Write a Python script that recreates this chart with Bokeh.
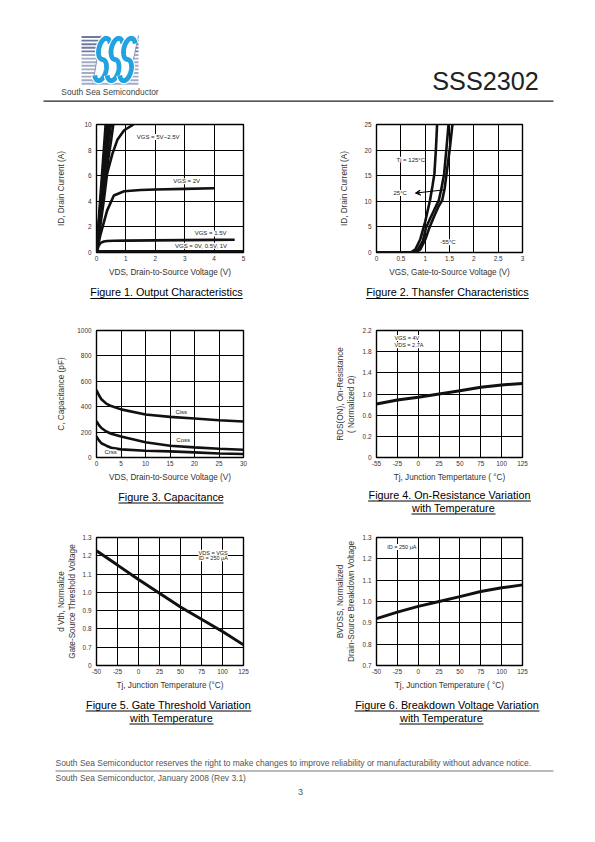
import numpy as np
from bokeh.plotting import figure
from bokeh.layouts import column, row
from bokeh.models import Range1d, FixedTicker, Arrow, VeeHead
from bokeh.core.properties import value
from bokeh.embed import file_html
from bokeh.resources import INLINE

FONT = "Liberation Sans"

# ---------------- data ----------------
# Figure 1 output characteristics (VDS V, ID A)
f1_5v_x = [0, 0.1, 0.2, 0.31]
f1_5v_y = [0, 3.3, 6.5, 10]
f1_45v_x = [0, 0.1, 0.2, 0.36]
f1_45v_y = [0, 2.9, 5.7, 10]
f1_4v_x = [0, 0.1, 0.2, 0.3, 0.42]
f1_4v_y = [0, 2.6, 5.1, 7.4, 10]
f1_35v_x = [0, 0.1, 0.2, 0.3, 0.4, 0.49]
f1_35v_y = [0, 2.3, 4.5, 6.5, 8.4, 10]
f1_3v_x = [0, 0.1, 0.2, 0.3, 0.4, 0.5, 0.57]
f1_3v_y = [0, 2.0, 3.9, 5.7, 7.3, 8.8, 10]
f1_25v_x = [0, 0.1, 0.25, 0.36, 0.54, 0.71, 0.94, 1.26]
f1_25v_y = [0, 1.6, 4.1, 6.15, 7.7, 8.8, 9.55, 10]
f1_2v_x = [0, 0.14, 0.36, 0.59, 0.94, 1.5, 2.0, 3.0, 4.0]
f1_2v_y = [0, 1.44, 3.27, 4.45, 4.79, 4.88, 4.92, 4.97, 5.02]
f1_15v_x = [0, 0.07, 0.14, 0.25, 0.36, 0.6, 1.0, 2.0, 3.0, 4.0, 4.7]
f1_15v_y = [0, 0.5, 0.75, 0.86, 0.9, 0.92, 0.93, 0.95, 0.97, 0.99, 1.0]
f1_0v_x = [0, 5]
f1_0v_y = [0, 0]
f1_lab_text = ["VGS = 5V~2.5V", "VGS = 2V", "VGS = 1.5V", "VGS = 0V, 0.5V, 1V"]
f1_lab_x = [1.37, 2.61, 3.34, 2.67]
f1_lab_y = [9.03, 5.57, 1.49, 0.53]
f1_xticks = [0, 1, 2, 3, 4, 5]
f1_yticks = [0, 2, 4, 6, 8, 10]

# Figure 2 transfer characteristics (VGS V, ID A)
f2_125_x = [0, 0.70, 0.80, 0.90, 1.00, 1.10, 1.15, 1.19, 1.22, 1.245]
f2_125_y = [0, 0, 0.6, 2.6, 6.0, 10.2, 13.0, 15.4, 20.0, 25]
f2_25_x = [0, 0.75, 0.85, 0.95, 1.02, 1.10, 1.18, 1.24, 1.28, 1.33, 1.39, 1.44, 1.48]
f2_25_y = [0, 0, 0.5, 2.2, 4.9, 6.6, 8.2, 9.4, 10.2, 12.3, 15.4, 20.6, 25]
f2_m55_x = [0, 0.80, 0.90, 1.00, 1.09, 1.18, 1.27, 1.35, 1.40, 1.44, 1.51, 1.56]
f2_m55_y = [0, 0, 0.6, 2.5, 4.9, 7.0, 8.9, 10.2, 12.5, 15.4, 20.6, 25]
f2_lab_text = ["Tj = 125°C", "25°C", "-55°C"]
f2_lab_x = [0.41, 0.35, 1.31]
f2_lab_y = [18.1, 11.6, 2.0]
f2_arrow = dict(x_start=1.40, y_start=12.25, x_end=0.80, y_end=11.6)
f2_xticks = [0, 0.5, 1, 1.5, 2, 2.5, 3]
f2_yticks = [0, 5, 10, 15, 20, 25]

# Figure 3 capacitance (VDS V, pF)
f3_vds = [0, 0.5, 1, 2, 3, 5, 10, 15, 20, 25, 30]
f3_ciss = [531, 490, 459, 424, 405, 379, 339, 320, 307, 293, 283]
f3_coss = [285, 255, 232, 205, 187, 165, 120, 93, 80, 69, 61]
f3_crss = [165, 135, 112, 93, 77, 64, 53, 48, 40, 32, 27]
f3_lab_text = ["Ciss", "Coss", "Crss"]
f3_lab_x = [16.1, 16.3, 1.63]
f3_lab_y = [357, 138, 40]
f3_xticks = [0, 5, 10, 15, 20, 25, 30]
f3_yticks = [0, 200, 400, 600, 800, 1000]

# Temperature axis used by figures 4-6 (first tick is printed "-55" in Fig. 4)
temp_pos = [-50, -25, 0, 25, 50, 75, 100, 125]
f4_temp_labels = ["-55", "-25", "0", "25", "50", "75", "100", "125"]
temp_labels = ["-50", "-25", "0", "25", "50", "75", "100", "125"]
f4_rds = [0.81, 0.886, 0.937, 1.0, 1.063, 1.127, 1.17, 1.2]
f4_yticks = [-0.2, 0.2, 0.6, 1.0, 1.4, 1.8, 2.2]
f4_ytick_labels = ["0", "0.2", "0.6", "1.0", "1.4", "1.8", "2.2"]
f4_lab_text = ["VGS = 4V", "VDS = 2.7A"]
f4_lab_x = [-28.4, -28.4]
f4_lab_y = [2.06, 1.92]

f5_vth = [1.227, 1.149, 1.07, 0.995, 0.92, 0.853, 0.786, 0.713]
f5_yticks = [0.6, 0.7, 0.8, 0.9, 1.0, 1.1, 1.2, 1.3]
f5_ytick_labels = ["0", "0.7", "0.8", "0.9", "1.0", "1.1", "1.2", "1.3"]
f5_lab_text = ["VDS = VGS", "ID = 250 μA"]
f5_lab_x = [71.5, 71.5]
f5_lab_y = [1.216, 1.186]

f6_bv = [0.92, 0.95, 0.977, 1.0, 1.023, 1.047, 1.064, 1.078]
f6_yticks = [0.7, 0.8, 0.9, 1.0, 1.1, 1.2, 1.3]
f6_ytick_labels = ["0.7", "0.8", "0.9", "1.0", "1.1", "1.2", "1.3"]
f6_lab_text = ["ID = 250 μA"]
f6_lab_x = [-37.2]
f6_lab_y = [1.256]

captions_row1 = ["Figure 1. Output Characteristics", "Figure 2. Thansfer Characteristics"]
captions_row2 = ["Figure 3. Capacitance", "Figure 4. On-Resistance Variation", "with Temperature"]
captions_row3 = ["Figure 5. Gate Threshold Variation", "with Temperature",
                 "Figure 6. Breakdown Voltage Variation", "with Temperature"]
# approximate text widths in em (Arial metrics), used for underline length
caption_em = {"Figure 1. Output Characteristics": 14.116,
              "Figure 2. Thansfer Characteristics": 15.060,
              "Figure 3. Capacitance": 9.726,
              "Figure 4. On-Resistance Variation": 15.061,
              "with Temperature": 7.780,
              "Figure 5. Gate Threshold Variation": 15.340,
              "Figure 6. Breakdown Voltage Variation": 17.119}
CAP_SIZE = 10.8


def chart(xr, yr, bl, fw, br, bt, fh, bb, xt, yt, xlabel, ylabel,
          xover=None, yover=None, ystand=10, xstand=4):
    p = figure(width=bl + fw + br, height=bt + fh + bb,
               x_range=Range1d(*xr), y_range=Range1d(*yr),
               output_backend="svg", toolbar_location=None,
               min_border_left=bl, min_border_right=br,
               min_border_top=bt, min_border_bottom=bb)
    p.outline_line_color = "black"
    p.outline_line_width = 1.4
    p.border_fill_color = "white"
    p.background_fill_color = "white"
    for ax, ticks, lab, over, st in [(p.xaxis[0], xt, xlabel, xover, xstand),
                                     (p.yaxis[0], yt, ylabel, yover, ystand)]:
        ax.ticker = FixedTicker(ticks=ticks)
        if over:
            ax.major_label_overrides = over
        ax.axis_label = lab
        ax.axis_label_standoff = st
        ax.axis_label_text_font = FONT
        ax.axis_label_text_font_size = "8.2px"
        ax.axis_label_text_font_style = "normal"
        ax.axis_label_text_color = "#333333"
        ax.major_label_text_font = FONT
        ax.major_label_text_font_size = "6.4px"
        ax.major_label_text_color = "#333333"
        ax.major_tick_line_color = None
        ax.minor_tick_line_color = None
        ax.axis_line_color = None
        ax.major_tick_out = 0
        ax.major_tick_in = 0
    p.xaxis[0].major_label_standoff = 3
    p.yaxis[0].major_label_standoff = 5
    p.xgrid.ticker = FixedTicker(ticks=xt)
    p.ygrid.ticker = FixedTicker(ticks=yt)
    p.grid.grid_line_color = "black"
    p.grid.grid_line_width = 1
    p.grid.grid_line_alpha = 1
    return p


def labels(p, xs, ys, texts, size="6px", align="left"):
    p.text(x=xs, y=ys, text=texts, text_font=value(FONT), text_font_size=size,
           text_color="#222222", text_align=align, text_baseline="middle",
           background_fill_color="white")


def strip(y0, y1):
    p = figure(width=595, height=y1 - y0, x_range=Range1d(0, 595),
               y_range=Range1d(y1, y0), output_backend="svg",
               toolbar_location=None, x_axis_location=None, y_axis_location=None,
               min_border=0, min_border_left=0, min_border_right=0,
               min_border_top=0, min_border_bottom=0)
    p.grid.visible = False
    p.outline_line_color = None
    return p


def caption(p, items):
    # items: (text, center x, center y) in page pixels
    for t, cx, cy in items:
        hw = caption_em[t] * CAP_SIZE / 2
        p.text(x=[cx], y=[cy], text=[t], text_font=value(FONT),
               text_font_size=f"{CAP_SIZE}px", text_color="black",
               text_align="center", text_baseline="middle")
        p.segment(x0=[cx - hw], y0=[cy + 6.5], x1=[cx + hw], y1=[cy + 6.5],
                  line_color="black", line_width=1)


LW = 2.6
# ---------------- Figure 1 ----------------
f1 = chart((0, 5), (0, 10), 96, 147, 54, 16, 128, 28, f1_xticks, f1_yticks,
           "VDS, Drain-to-Source Voltage (V)", "ID, Drain Current (A)", ystand=15)
for xs, ys in [(f1_5v_x, f1_5v_y), (f1_45v_x, f1_45v_y), (f1_4v_x, f1_4v_y),
               (f1_35v_x, f1_35v_y), (f1_3v_x, f1_3v_y), (f1_25v_x, f1_25v_y),
               (f1_2v_x, f1_2v_y), (f1_15v_x, f1_15v_y)]:
    f1.line(xs, ys, line_color="#111111", line_width=LW)
f1.line(f1_0v_x, f1_0v_y, line_color="#111111", line_width=5)
labels(f1, f1_lab_x, f1_lab_y, f1_lab_text)

# ---------------- Figure 2 ----------------
f2 = chart((0, 3), (0, 25), 79, 146, 73, 16, 128, 28, f2_xticks, f2_yticks,
           "VGS, Gate-to-Source Voltage (V)", "ID, Drain Current (A)",
           xover={0: "0", 1: "1", 2: "2", 3: "3"}, ystand=12)
for xs, ys in [(f2_125_x, f2_125_y), (f2_25_x, f2_25_y), (f2_m55_x, f2_m55_y)]:
    f2.line(xs, ys, line_color="#111111", line_width=LW)
f2.add_layout(Arrow(end=VeeHead(size=5, fill_color="black", line_color="black"),
                    line_color="black", line_width=1, **f2_arrow))
labels(f2, f2_lab_x, f2_lab_y, f2_lab_text)

# ---------------- Figure 3 ----------------
f3 = chart((0, 30), (0, 1000), 96, 147, 54, 25, 127, 27, f3_xticks, f3_yticks,
           "VDS, Drain-to-Source Voltage (V)", "C, Capacitance (pF)", ystand=8)
for ys in (f3_ciss, f3_coss, f3_crss):
    f3.line(f3_vds, ys, line_color="#111111", line_width=LW)
labels(f3, f3_lab_x, f3_lab_y, f3_lab_text)

# ---------------- Figure 4 ----------------
f4 = chart((-50, 125), (-0.2, 2.2), 79, 146, 73, 25, 127, 27, temp_pos, f4_yticks,
           "Tj, Junction Tempertature ( °C)",
           "RDS(ON), On-Resistance\n(      Normalized     Ω)",
           xover=dict(zip(temp_pos, f4_temp_labels)),
           yover=dict(zip(f4_yticks, f4_ytick_labels)), ystand=4)
f4.line(temp_pos, f4_rds, line_color="#111111", line_width=3)
labels(f4, f4_lab_x, f4_lab_y, f4_lab_text, size="5.5px")

# ---------------- Figure 5 ----------------
f5 = chart((-50, 125), (0.6, 1.3), 96, 147, 54, 22, 128, 29, temp_pos, f5_yticks,
           "Tj, Junction Temperature (°C)",
           "d Vth, Normalize\nGate-Source Threshold Voltage",
           xover=dict(zip(temp_pos, temp_labels)),
           yover=dict(zip(f5_yticks, f5_ytick_labels)), ystand=3)
f5.line(temp_pos, f5_vth, line_color="#111111", line_width=3)
labels(f5, f5_lab_x, f5_lab_y, f5_lab_text, size="5.5px")

# ---------------- Figure 6 ----------------
f6 = chart((-50, 125), (0.7, 1.3), 79, 146, 73, 22, 128, 29, temp_pos, f6_yticks,
           "Tj, Junction Temperature ( °C)",
           "BVDSS, Normalized\nDrain-Source Breakdown Voltage",
           xover=dict(zip(temp_pos, temp_labels)),
           yover=dict(zip(f6_yticks, f6_ytick_labels)), ystand=4)
f6.line(temp_pos, f6_bv, line_color="#111111", line_width=3)
labels(f6, f6_lab_x, f6_lab_y, f6_lab_text, size="5.5px")

# ---------------- caption strips ----------------
cap1 = strip(280, 305)
caption(cap1, [(captions_row1[0], 166, 291.5), (captions_row1[1], 447, 291.5)])
cap2 = strip(484, 515)
caption(cap2, [(captions_row2[0], 170.5, 496), (captions_row2[1], 449, 494),
               (captions_row2[2], 453, 507)])
cap3 = strip(694, 725)
caption(cap3, [(captions_row3[0], 168, 704), (captions_row3[1], 171, 717),
               (captions_row3[2], 446.5, 704), (captions_row3[3], 441, 717)])

# ---------------- header ----------------
hdr = strip(0, 108)
stripe_y = np.arange(36.5, 83.5, 3.6)
stripe_col = ["#6f7aa0" if y < 52 else "#a3acc6" for y in stripe_y]
hdr.segment(x0=[81] * len(stripe_y), y0=stripe_y, x1=[138] * len(stripe_y), y1=stripe_y,
            line_color=stripe_col, line_width=1.9)
# white slanted field behind the letters
hdr.patch(x=[100.5, 138, 128, 92.5], y=[35, 35, 82, 82], fill_color="white",
          line_color=None)
hdr.segment(x0=[100.5, 138], y0=[35, 35], x1=[92.5, 128], y1=[82, 82],
            line_color="#8a94b4", line_width=1)


def s_path(cx, mid, rx, ry, slant=0.18):
    t1 = np.radians(np.linspace(30, 270, 40))
    t2 = np.radians(np.linspace(90, -150, 40))
    xu = np.concatenate([cx + rx * np.cos(t1), cx + rx * np.cos(t2)])
    yu = np.concatenate([ry + ry * np.sin(t1), -ry + ry * np.sin(t2)])
    return xu + slant * yu, mid - yu


for cx in (102, 114.5, 127):
    xs, ys = s_path(cx, 59, 5.6, 10.6)
    hdr.line(xs, ys, line_color="white", line_width=7)
    hdr.line(xs, ys, line_color="#21a3e0", line_width=4.8)
hdr.text(x=[109.5], y=[91.8], text=["South Sea Semiconductor"], text_font=value(FONT),
         text_font_size="8.4px", text_color="#444444", text_align="center",
         text_baseline="middle")
hdr.text(x=[485], y=[80.5], text=["SSS2302"], text_font=value(FONT),
         text_font_size="25.2px", text_color="#222222", text_align="center",
         text_baseline="middle")
hdr.segment(x0=[43], y0=[100.7], x1=[553], y1=[100.7], line_color="#222222", line_width=1.2)

# ---------------- footer ----------------
ftr = strip(725, 840)
ftr.text(x=[55], y=[762.3],
         text=["South Sea Semiconductor reserves the right to make changes to improve reliability or manufacturability without advance notice."],
         text_font=value(FONT), text_font_size="8.45px", text_color="#555555",
         text_align="left", text_baseline="middle")
ftr.segment(x0=[55], y0=[770.5], x1=[553], y1=[770.5], line_color="#777777", line_width=1)
ftr.text(x=[55], y=[777], text=["South Sea Semiconductor, January 2008 (Rev 3.1)"],
         text_font=value(FONT), text_font_size="8.45px", text_color="#555555",
         text_align="left", text_baseline="middle")
ftr.text(x=[300], y=[791.5], text=["3"], text_font=value(FONT), text_font_size="9px",
         text_color="#555555", text_align="center", text_baseline="middle")

page = column(hdr,
              row(f1, f2), cap1,
              row(f3, f4), cap2,
              row(f5, f6), cap3,
              ftr)

open("out.html", "w").write(file_html(page, INLINE))
